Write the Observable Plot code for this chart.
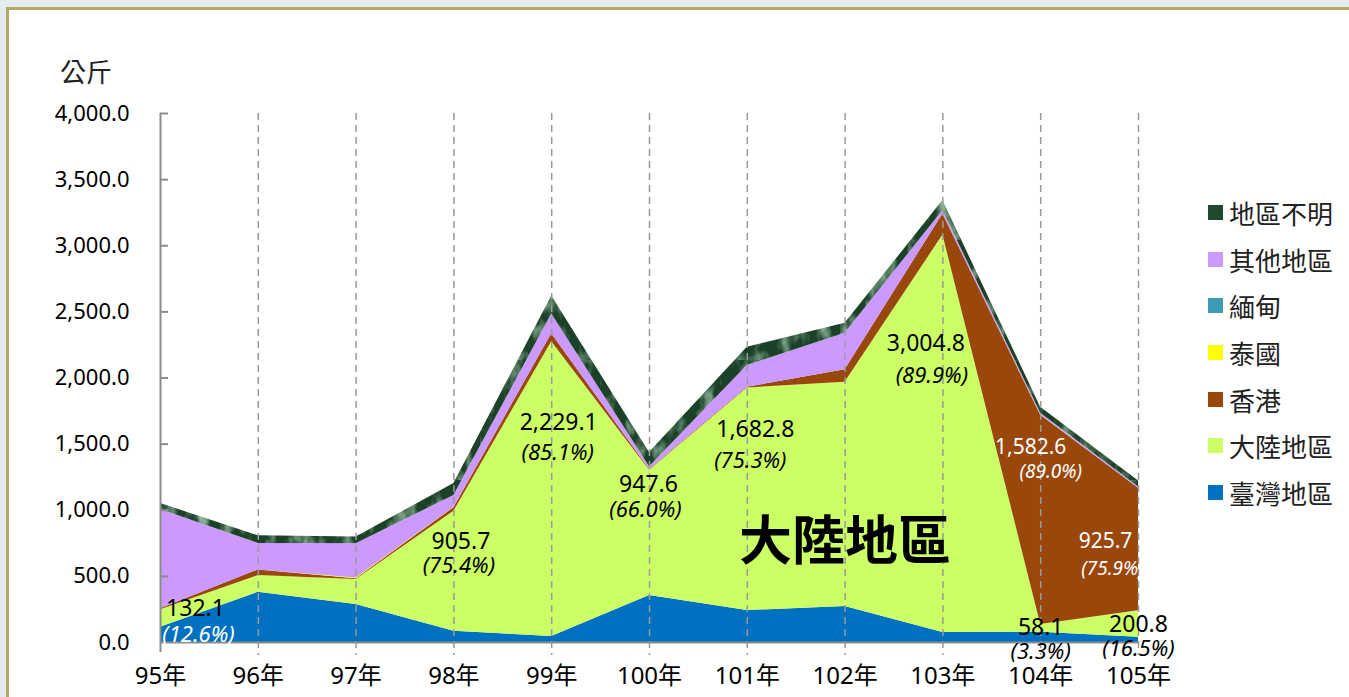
<!DOCTYPE html>
<html>
<head>
<meta charset="utf-8">
<script src="https://cdn.jsdelivr.net/npm/d3@7"></script>
<script src="https://cdn.jsdelivr.net/npm/@observablehq/plot@0.6"></script>
<style>
  html, body { margin: 0; padding: 0; }
  body { width: 1349px; height: 697px; overflow: hidden; background: #e4ecef; position: relative;
         font-family: "Noto Sans", "Noto Sans CJK TC", sans-serif; }
  #frame { position: absolute; left: 6px; top: 7px; width: 1400px; height: 760px; background: #fff;
           border: 3px solid #b7a862; box-sizing: border-box; }
  #chart { position: absolute; left: 0; top: 0; }
  #unit { position: absolute; left: 60px; top: 52px; font-size: 26px; color: #222;
          font-family: "Noto Sans CJK TC", sans-serif; }
  #legend { position: absolute; left: 1208px; top: 189px; font-family: "Noto Sans CJK TC", sans-serif; }
  .li { height: 46.7px; display: flex; align-items: center; font-size: 26px; color: #222; }
  .sw { width: 15px; height: 15px; margin-right: 6px; flex: none; }
</style>
</head>
<body>
<div id="frame"></div>
<div id="chart"></div>
<div id="unit">公斤</div>
<div id="legend"></div>
<script>
// ---- data ----
const years = [95, 96, 97, 98, 99, 100, 101, 102, 103, 104, 105];
const seriesNames = ["臺灣地區", "大陸地區", "香港", "泰國", "緬甸", "其他地區", "地區不明"];
const taiwan   = [116, 380, 287, 86, 45, 355, 242, 272, 76, 78, 40];
const mainland = [132.1, 126, 190, 905.7, 2229.1, 947.6, 1682.8, 1696, 3004.8, 58.1, 200.8];
const hongkong = [8, 43, 5, 28, 60, 6, 5, 94, 160, 1582.6, 925.7];
const thailand = [0, 0, 5, 2, 0, 0, 0, 0, 0, 2, 0];
const myanmar  = [0, 0, 0, 0, 0, 0, 0, 0, 0, 0, 0];
const others   = [750, 200, 260, 90, 150, 20, 165, 277, 25, 12, 10];
const unknown  = [45, 58, 50, 90, 135, 108, 138, 75, 76, 46, 44];
const seriesValues = [taiwan, mainland, hongkong, thailand, myanmar, others, unknown];
const yTicks = [0, 500, 1000, 1500, 2000, 2500, 3000, 3500, 4000];

// value labels: year, text, percent
const labelYears = [95, 98, 99, 100, 101, 103, 104, 105, 104, 105];
const labelTexts = ["132.1", "905.7", "2,229.1", "947.6", "1,682.8", "3,004.8", "1,582.6", "925.7", "58.1", "200.8"];
const labelPcts  = ["(12.6%)", "(75.4%)", "(85.1%)", "(66.0%)", "(75.3%)", "(89.9%)", "(89.0%)", "(75.9%)", "(3.3%)", "(16.5%)"];

// ---- annotation layout (anchor values in data units, pixel offsets) ----
const labelLayout = [
  {vy: 257, py: 60,   vdx: 35, pdx: 38, size: 23, psize: 22, color: "#000", pcolor: "#fff"},
  {vy: 762, py: 576,  vdx: 7,  pdx: 5,  size: 23, psize: 22, color: "#000", pcolor: "#000"},
  {vy: 1662, py: 1430, vdx: 7, pdx: 6,  size: 23, psize: 22, color: "#000", pcolor: "#000"},
  {vy: 1195, py: 1000, vdx: -1, pdx: -4, size: 23, psize: 22, color: "#000", pcolor: "#000"},
  {vy: 1610, py: 1370, vdx: 8, pdx: 3,  size: 23, psize: 22, color: "#000", pcolor: "#000"},
  {vy: 2260, py: 2012, vdx: -17, pdx: -11, size: 23, psize: 22, color: "#000", pcolor: "#000"},
  {vy: 1480, py: 1287, vdx: -10, pdx: 10, size: 21, psize: 19, color: "#fff", pcolor: "#fff"},
  {vy: 762, py: 554,  vdx: -33, pdx: -26, size: 21, psize: 19, color: "#fff", pcolor: "#fff", clip: true},
  {vy: 112, py: -72,  vdx: 0,  pdx: 0,  size: 23, psize: 22, color: "#000", pcolor: "#000"},
  {vy: 135, py: -49,  vdx: 0,  pdx: 0,  size: 23, psize: 22, color: "#000", pcolor: "#000"}
];
const colors = ["#0070c0", "#ccff66", "#9a470b", "#ffff00", "#3f9ab4", "#cc99ff", "url(#marble)"];
const legendColors = ["#0070c0", "#ccff66", "#9a470b", "#ffff00", "#3f9ab4", "#cc99ff", "#1f4a2b"];

const rows = [];
seriesNames.forEach((s, i) => years.forEach((y, j) => rows.push({year: y, series: s, value: seriesValues[i][j]})));

const FONT = '"Noto Sans", "Noto Sans CJK TC", sans-serif';
const textMarks = [];
labelYears.forEach((yr, i) => {
  const L = labelLayout[i];
  textMarks.push(Plot.text([{x: yr, y: L.vy, t: labelTexts[i]}], {x: "x", y: "y", text: "t", dx: L.vdx,
    fontSize: L.size, fill: L.color, fontFamily: FONT, clip: !!L.clip}));
  textMarks.push(Plot.text([{x: yr, y: L.py, t: labelPcts[i]}], {x: "x", y: "y", text: "t", dx: L.pdx,
    fontSize: L.psize, fill: L.pcolor, fontStyle: "italic", fontFamily: FONT, clip: !!L.clip}));
});

const chart = Plot.plot({
  width: 1349, height: 697,
  marginLeft: 160, marginRight: 211, marginTop: 113, marginBottom: 55,
  style: {background: "transparent", fontFamily: FONT, color: "#000"},
  x: {type: "linear", domain: [95, 105]},
  y: {type: "linear", domain: [0, 4000]},
  color: {domain: seriesNames, range: colors},
  marks: [
    Plot.areaY(rows, {x: "year", y: "value", fill: "series", order: seriesNames, curve: "linear"}),
    Plot.ruleX(years.slice(1), {y1: 4000, y2: 0, insetBottom: -13, stroke: "#9a9a9a", strokeWidth: 1.5, strokeDasharray: "7,5"}),
    Plot.ruleX([95], {y1: 4000, y2: 0, insetBottom: -10, stroke: "#8c8c8c", strokeWidth: 2}),
    Plot.ruleY([0], {stroke: "#8c8c8c", strokeWidth: 2}),
    Plot.axisY({ticks: yTicks, tickSize: 0, tickPadding: 31, tickFormat: d => d3.format(",.1f")(d), fontSize: 22, fill: "#000"}),
    Plot.axisY({ticks: yTicks.slice(1), tickSize: 8, dx: 8, tickFormat: () => "", stroke: "#8c8c8c", strokeWidth: 2}),
    Plot.axisX({ticks: years, tickSize: 0, tickPadding: 24, tickFormat: d => d + "年", fontSize: 24, fill: "#000"}),
    ...textMarks,
    Plot.text([{x: 102, y: 749, t: "大陸地區"}], {x: "x", y: "y", text: "t", fontSize: 53, fontWeight: 700,
      fontFamily: '"Noto Sans CJK TC", sans-serif', fill: "#000"})
  ]
});
document.getElementById("chart").appendChild(chart);

// marble texture for 地區不明
const svg = d3.select(chart.tagName === "svg" ? chart : chart.querySelector("svg"));
const defs = svg.insert("defs", ":first-child");
const f = defs.append("filter").attr("id", "marbleNoise").attr("x", 0).attr("y", 0).attr("width", "100%").attr("height", "100%");
f.append("feTurbulence").attr("type", "fractalNoise").attr("baseFrequency", "0.07 0.04").attr("numOctaves", 3).attr("seed", 4);
f.append("feColorMatrix").attr("type", "matrix")
  .attr("values", "0 0 0 0 0.32  0 0 0 0 0.52  0 0 0 0 0.38  0 0 0 2.4 -1.05");
const p = defs.append("pattern").attr("id", "marble").attr("patternUnits", "userSpaceOnUse").attr("width", 120).attr("height", 120);
p.append("rect").attr("width", 120).attr("height", 120).attr("fill", "#1b4226");
p.append("rect").attr("width", 120).attr("height", 120).attr("filter", "url(#marbleNoise)");

// legend (top to bottom reversed)
const leg = document.getElementById("legend");
seriesNames.map((s, i) => [s, legendColors[i]]).reverse().forEach(([s, c]) => {
  const d = document.createElement("div");
  d.className = "li";
  d.innerHTML = `<span class="sw" style="background:${c}"></span><span>${s}</span>`;
  leg.appendChild(d);
});
</script>
</body>
</html>
